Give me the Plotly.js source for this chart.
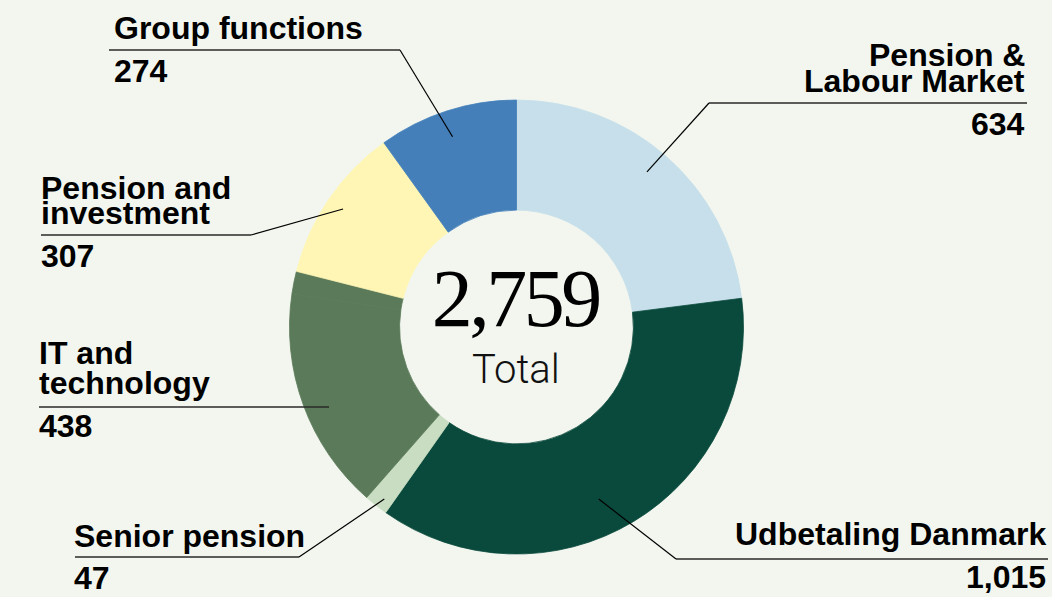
<!DOCTYPE html>
<html><head><meta charset="utf-8">
<script src="https://cdn.plot.ly/plotly-3.0.1.min.js"></script>
<style>html,body{margin:0;padding:0;background:#f2f6ef;} #chart{width:1052px;height:597px;}</style>
</head><body><div id="chart"></div>
<script>
// ---- data ----
const categories = ["Pension & Labour Market", "Udbetaling Danmark", "Senior pension", "IT and technology", "Pension and investment", "Group functions"];
const values = [634, 1015, 47, 438, 307, 274];
const nameLines = [["Pension &", "Labour Market"], ["Udbetaling Danmark"], ["Senior pension"], ["IT and", "technology"], ["Pension and", "investment"], ["Group functions"]];
const totalShown = 2759;
const totalLabel = "Total";
const sliceColors = ["#c6dfea", "#0a4a3c", "#c8ddc1", "#5b7a59", "#fff6b5", "#447fba"];

// ---- layout geometry (pixels) ----
const W = 1052, H = 597;
const pieCx = 516.5, pieCy = 327, pieR = 227, holeFrac = 0.515;
const labelLayout = [
  {side: 'right', textX: 1027, lineY: 103, elbowX: 709, farX: 1027, baselines: [67, 93], numBaseline: 136, da: -1.3, rf: 0.893},
  {side: 'right', textX: 1048, lineY: 559, elbowX: 676, farX: 1048, baselines: [546], numBaseline: 589, da: 5.5, rf: 0.84},
  {side: 'left', textX: 72, lineY: 557, elbowX: 299, farX: 75, baselines: [548], numBaseline: 590, da: -0.7, rf: 0.956},
  {side: 'left', textX: 37, lineY: 407, elbowX: 328, farX: 39, baselines: [365, 395], numBaseline: 438, da: -3, rf: 0.899},
  {side: 'left', textX: 39, lineY: 235, elbowX: 251, farX: 41, baselines: [200, 225], numBaseline: 268, da: 0, rf: 0.924},
  {side: 'left', textX: 112, lineY: 50, elbowX: 400, farX: 109, baselines: [40], numBaseline: 83, da: -0.7, rf: 0.884}
];
const labelFont = {family: 'Liberation Sans, Arial, sans-serif', size: 32, color: '#000', weight: 700};

const px = x => x / W;
const py = y => 1 - y / H;

// pie values: labelled segments plus the unlabelled rest of the shown total, drawn with IT
const remainder = Math.max(0, totalShown - values.reduce((a, b) => a + b, 0));
const itIdx = 3;
const pieLabels = [], pieValues = [], pieColors = [], pieOwner = [];
categories.forEach((c, i) => {
  pieLabels.push(c); pieValues.push(values[i]); pieColors.push(sliceColors[i]); pieOwner.push(i);
  if (i === itIdx && remainder > 0) {
    pieLabels.push("Other"); pieValues.push(remainder); pieColors.push(sliceColors[i]); pieOwner.push(-1);
  }
});
const pieTotal = pieValues.reduce((a, b) => a + b, 0);

// mid angle (deg, clockwise from 12 o'clock) of each labelled slice
const midAngle = {};
let cum = 0;
pieValues.forEach((v, k) => {
  if (pieOwner[k] >= 0) midAngle[pieOwner[k]] = (cum + v / 2) / pieTotal * 360;
  cum += v;
});

const shapes = [], annotations = [];
categories.forEach((c, i) => {
  const L = labelLayout[i];
  const a = (midAngle[i] + L.da) * Math.PI / 180;
  const ex = pieCx + L.rf * pieR * Math.sin(a);
  const ey = pieCy - L.rf * pieR * Math.cos(a);
  shapes.push({type: 'line', xref: 'paper', yref: 'paper', x0: px(L.farX), y0: py(L.lineY), x1: px(L.elbowX), y1: py(L.lineY), line: {color: '#2a2a2a', width: 1.5}});
  shapes.push({type: 'line', xref: 'paper', yref: 'paper', x0: px(L.elbowX), y0: py(L.lineY), x1: px(ex), y1: py(ey), line: {color: '#000', width: 1.2}});
  const anch = L.side === 'right' ? 'right' : 'left';
  const desc = 0.212 * labelFont.size + 1;
  nameLines[i].forEach((t, j) => {
    annotations.push({xref: 'paper', yref: 'paper', x: px(L.textX), y: py(L.baselines[j] + desc), xanchor: anch, yanchor: 'bottom', text: t, showarrow: false, font: labelFont, align: anch});
  });
  annotations.push({xref: 'paper', yref: 'paper', x: px(L.textX), y: py(L.numBaseline + desc), xanchor: anch, yanchor: 'bottom', text: values[i].toLocaleString('en-US'), showarrow: false, font: labelFont, align: anch});
});

// centre texts
const bigSize = 82;
annotations.push({xref: 'paper', yref: 'paper', x: px(515), y: py(327 + 0.216 * bigSize + 1), xanchor: 'center', yanchor: 'bottom', text: totalShown.toLocaleString('en-US'), showarrow: false, font: {family: 'Liberation Serif, Times New Roman, serif', size: bigSize, color: '#000'}});
const totSize = 40;
annotations.push({xref: 'paper', yref: 'paper', x: px(515.5), y: py(386 + 0.212 * totSize + 1), xanchor: 'center', yanchor: 'bottom', text: totalLabel, showarrow: false, font: {family: 'Roboto, Liberation Sans, sans-serif', size: totSize, color: '#111', weight: 300}});

const trace = {
  type: 'pie', labels: pieLabels, values: pieValues, sort: false, direction: 'clockwise', rotation: 0,
  hole: holeFrac, textinfo: 'none', hoverinfo: 'label+value',
  marker: {colors: pieColors, line: {width: 0.8, color: pieColors}},
  domain: {x: [px(pieCx - pieR), px(pieCx + pieR)], y: [py(pieCy + pieR), py(pieCy - pieR)]},
  showlegend: false
};

const layout = {
  width: W, height: H, margin: {l: 0, r: 0, t: 0, b: 0},
  paper_bgcolor: '#f2f6ef', plot_bgcolor: '#f2f6ef',
  showlegend: false, shapes: shapes, annotations: annotations
};

Plotly.newPlot('chart', [trace], layout, {displayModeBar: false, staticPlot: true}).then(() => {
  document.querySelectorAll('#chart text.annotation-text').forEach(t => {
    if (t.textContent === totalShown.toLocaleString('en-US')) t.style.letterSpacing = '-3.5px';
  });
});
</script></body></html>
